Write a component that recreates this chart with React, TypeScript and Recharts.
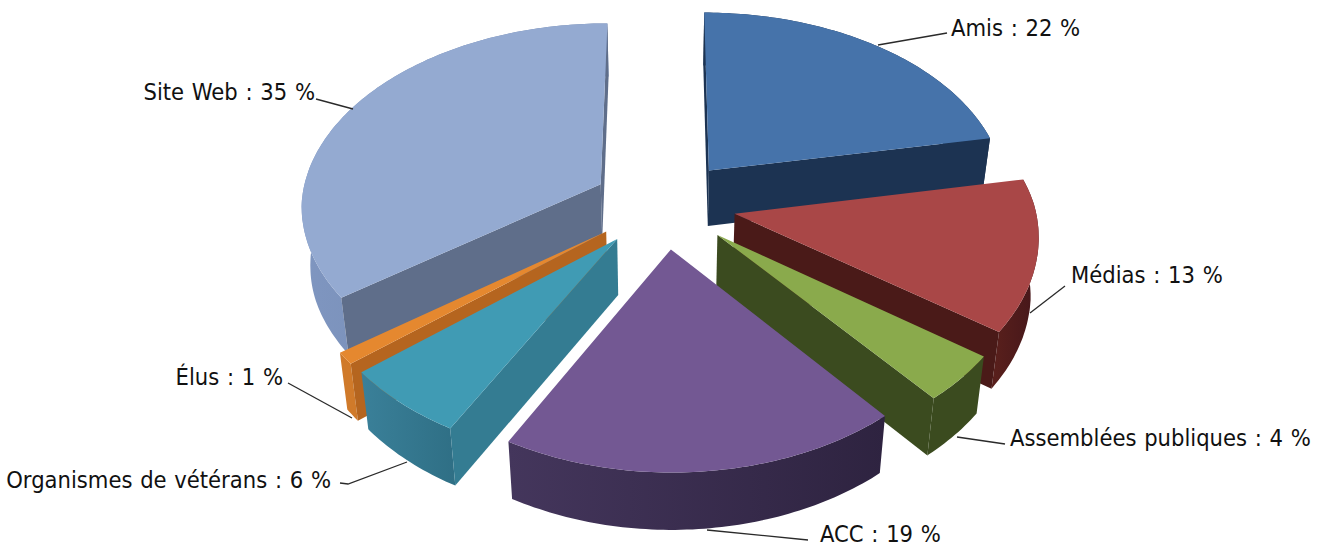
import React from "react";
import { PieChart, Pie } from "recharts";

// Clockwise from twelve o'clock
const categories = ["Amis", "Médias", "Assemblées publiques", "ACC", "Organismes de vétérans", "Élus", "Site Web"];
const values = [22, 13, 4, 19, 6, 1, 35];

const shares = categories.map((name, i) => ({ name, value: values[i] }));
// Two pies so the stacking works out: right side clockwise, left side counter-clockwise
const rightShares = shares.slice(0, 4);
const leftShares = shares.slice(4).reverse();
const rightSweep = rightShares.reduce((sum, s) => sum + s.value, 0) * 3.6;

const faceColors: Record<string, { top: string; cut: string; side: [string, string] }> = {
  Amis: { top: "#4673aa", cut: "#1c3352", side: ["#1c3352", "#1c3352"] },
  "Médias": { top: "#a94747", cut: "#4a1a18", side: ["#5a201c", "#44161a"] },
  "Assemblées publiques": { top: "#8aaa4c", cut: "#3b4b1f", side: ["#3b4b1f", "#3b4b1f"] },
  ACC: { top: "#735893", cut: "#33274a", side: ["#44365c", "#2e2340"] },
  "Organismes de vétérans": { top: "#409bb4", cut: "#347c92", side: ["#3a8099", "#2f6f85"] },
  "Élus": { top: "#e5882f", cut: "#b5651f", side: ["#d07a2a", "#d07a2a"] },
  "Site Web": { top: "#94aad1", cut: "#5f6e8a", side: ["#7f96c0", "#6e83aa"] },
};

// Label anchor and leader line (text end first, slice end last)
const labelSpots: Record<string, { x: number; y: number; anchor: "start" | "end"; line: number[][] }> = {
  Amis: { x: 951, y: 36, anchor: "start", line: [[947, 33], [878, 45]] },
  "Médias": { x: 1071, y: 283, anchor: "start", line: [[1065, 286], [1030, 313]] },
  "Assemblées publiques": { x: 1010, y: 446, anchor: "start", line: [[1005, 444], [957, 437]] },
  ACC: { x: 820, y: 542, anchor: "start", line: [[808, 540], [707, 530]] },
  "Organismes de vétérans": { x: 331, y: 488, anchor: "end", line: [[340, 483], [348, 484], [407, 462]] },
  "Élus": { x: 283, y: 385, anchor: "end", line: [[288, 383], [352, 418]] },
  "Site Web": { x: 315, y: 100, anchor: "end", line: [[316, 99], [353, 109]] },
};

const TILT = 0.615; // vertical squash of the disc
const PERSPECTIVE = 0.12; // far edge shrinks, near edge grows
const NEAR_WIDEN = 0.85; // near edge grows a bit less sideways than downwards
const EXPLODE = 0.24;
const DEPTH = 57;
const FLOOR_SHRINK = 0.025; // bottom face sits slightly further from the viewer

type Pt = [number, number];

const toPath = (pts: Pt[]) => "M" + pts.map((p) => `${p[0].toFixed(1)},${p[1].toFixed(1)}`).join("L") + "Z";

const signedArea = (pts: Pt[]) =>
  pts.reduce((sum, p, i) => {
    const q = pts[(i + 1) % pts.length];
    return sum + p[0] * q[1] - q[0] * p[1];
  }, 0);

function Slice3D(props: any) {
  const { cx, cy, outerRadius, startAngle, endAngle, name } = props;
  const colors = faceColors[name];
  const a = 90 - startAngle;
  const b = 90 - endAngle;
  const lo = Math.min(a, b);
  const hi = Math.max(a, b);
  const mid = ((lo + hi) / 2) * (Math.PI / 180);
  const offX = EXPLODE * Math.sin(mid);
  const offY = EXPLODE * Math.cos(mid);

  const project = (X: number, Y: number, floor: boolean): Pt => {
    const s = 1 / (1 + PERSPECTIVE * Y + (floor ? FLOOR_SHRINK : 0));
    const sx = s > 1 ? Math.pow(s, NEAR_WIDEN) : s;
    return [cx + outerRadius * X * sx, cy - outerRadius * TILT * Y * s + (floor ? DEPTH * s : 0)];
  };
  const rim = (deg: number, floor: boolean) => {
    const r = deg * (Math.PI / 180);
    return project(offX + Math.sin(r), offY + Math.cos(r), floor);
  };
  const arc = (floor: boolean) => {
    const pts: Pt[] = [];
    for (let d = lo; d < hi; d += 1) pts.push(rim(d, floor));
    pts.push(rim(hi, floor));
    return pts;
  };

  const apex = project(offX, offY, false);
  const apexLow = project(offX, offY, true);
  const topArc = arc(false);
  const lowArc = arc(true);
  const loCut: Pt[] = [apex, rim(lo, false), rim(lo, true), apexLow];
  const hiCut: Pt[] = [apex, rim(hi, false), rim(hi, true), apexLow];
  const gradId = `side-${categories.indexOf(name)}`;

  return (
    <g>
      <defs>
        <linearGradient id={gradId} x1="0" y1="0" x2="1" y2="0">
          <stop offset="0%" stopColor={colors.side[0]} />
          <stop offset="100%" stopColor={colors.side[1]} />
        </linearGradient>
      </defs>
      <path d={toPath([...topArc, ...lowArc.reverse()])} fill={`url(#${gradId})`} />
      {signedArea(loCut) < 0 && <path d={toPath(loCut)} fill={colors.cut} />}
      {signedArea(hiCut) > 0 && <path d={toPath(hiCut)} fill={colors.cut} />}
      <path d={toPath([apex, ...topArc])} fill={colors.top} />
    </g>
  );
}

function SliceLabel(props: any) {
  const { name, value } = props;
  const spot = labelSpots[name];
  return (
    <g>
      <polyline
        points={spot.line.map((p) => p.join(",")).join(" ")}
        fill="none"
        stroke="#2a2a2a"
        strokeWidth={1.3}
      />
      <text
        x={spot.x}
        y={spot.y}
        textAnchor={spot.anchor}
        fontFamily="'DejaVu Sans Condensed', 'Noto Sans'"
        fontSize={23.5}
        wordSpacing={1}
        fill="#111"
      >
        {`${name} : ${value} %`}
      </text>
    </g>
  );
}

export default function App() {
  return (
    <div style={{ position: "absolute", left: 0, top: 0, width: 1325, height: 548, background: "#fff" }}>
      <PieChart width={1325} height={548} margin={{ top: 0, right: 0, bottom: 0, left: 0 }}>
        <Pie
          data={leftShares}
          dataKey="value"
          nameKey="name"
          cx={664}
          cy={204}
          outerRadius={300}
          startAngle={-270}
          endAngle={90 - rightSweep}
          stroke="none"
          shape={Slice3D}
          label={SliceLabel}
          labelLine={false}
          isAnimationActive={false}
        />
        <Pie
          data={rightShares}
          dataKey="value"
          nameKey="name"
          cx={664}
          cy={204}
          outerRadius={300}
          startAngle={90}
          endAngle={90 - rightSweep}
          stroke="none"
          shape={Slice3D}
          label={SliceLabel}
          labelLine={false}
          isAnimationActive={false}
        />
      </PieChart>
    </div>
  );
}
